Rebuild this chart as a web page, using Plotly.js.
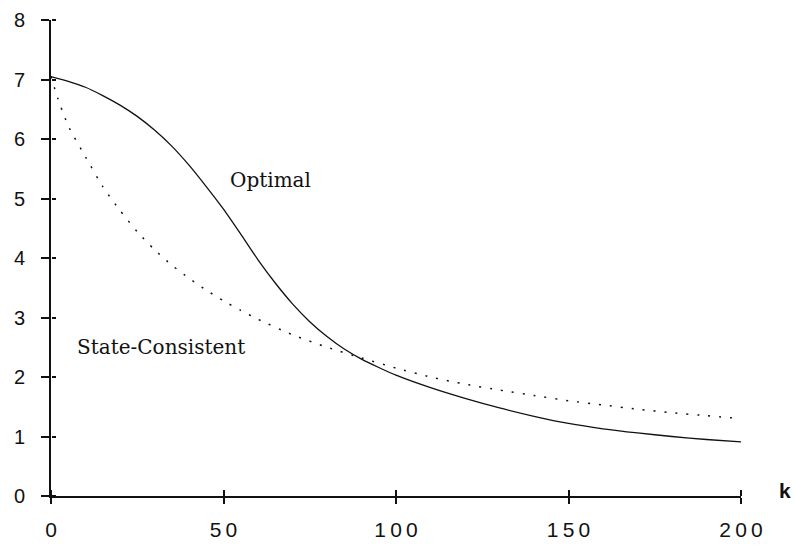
<!DOCTYPE html>
<html>
<head>
<meta charset="utf-8">
<script src="https://cdn.plot.ly/plotly-3.0.1.min.js"></script>
<style>html,body{margin:0;padding:0;background:#fff;}#chart{width:795px;height:552px;}</style>
</head>
<body>
<div id="chart"></div>
<script>
// Data
const kOptimal = [0,5,10,15,20,25,30,35,40,45,50,55,60,65,70,75,80,85,90,95,100,110,120,130,140,150,160,170,180,190,200];
const optimal  = [7.05,6.97,6.87,6.73,6.57,6.38,6.15,5.88,5.56,5.20,4.82,4.40,3.97,3.58,3.23,2.93,2.68,2.47,2.30,2.16,2.03,1.82,1.64,1.48,1.34,1.22,1.13,1.06,1.00,0.95,0.91];

const kState = [0,2,5,10,15,20,25,30,35,40,45,50,55,60,70,80,90,100,110,120,130,140,150,160,170,180,190,200];
const stateConsistent = [7.05,6.68,6.22,5.70,5.20,4.80,4.44,4.14,3.88,3.66,3.46,3.28,3.12,2.97,2.71,2.50,2.32,2.15,2.00,1.88,1.78,1.69,1.60,1.53,1.46,1.40,1.35,1.30];

const xTickVals = [0,50,100,150,200];
const xTickText = ['0','5\u20090','1\u20090\u20090','1\u20095\u20090','2\u20090\u20090'];
const yTickVals = [0,1,2,3,4,5,6,7,8];
const yTickText = ['0','1','2','3','4','5','6','7','8'];

const labelOptimal = 'Optimal';
const labelState = 'State-Consistent';
const xAxisLabel = 'k';

const traces = [
  {x: kOptimal, y: optimal, type: 'scatter', mode: 'lines', name: labelOptimal,
   line: {color: '#111', width: 1.3, shape: 'spline', smoothing: 0.6}, hoverinfo: 'skip'},
  {x: kState, y: stateConsistent, xaxis: 'x2', yaxis: 'y2', type: 'scatter', mode: 'lines', name: labelState,
   line: {color: '#111', width: 1.5, dash: '2px,9px', shape: 'spline', smoothing: 0.6}, hoverinfo: 'skip'}
];

const tickFont = {family: '"Liberation Sans", Arial, sans-serif', size: 20, color: '#111'};

const layout = {
  width: 795, height: 552,
  margin: {l: 51, r: 54, t: 20, b: 56},
  paper_bgcolor: '#fff', plot_bgcolor: '#fff',
  showlegend: false,
  xaxis: {
    range: [0, 200], tickvals: xTickVals, ticktext: xTickText,
    showgrid: false, zeroline: false, showline: true, linecolor: '#111', linewidth: 2,
    ticks: 'outside', ticklen: 6, tickwidth: 2, tickcolor: '#111',
    tickfont: Object.assign({}, tickFont, {size: 21}), ticklabelstandoff: 8
  },
  yaxis: {
    range: [0, 8], tickvals: yTickVals, ticktext: yTickText,
    showgrid: false, zeroline: false, showline: true, linecolor: '#111', linewidth: 2,
    ticks: 'outside', ticklen: 8, tickwidth: 2, tickcolor: '#111',
    tickfont: tickFont, ticklabelstandoff: 12
  },
  // companion axes that draw the upper / right half of the crossing ticks
  xaxis2: {
    overlaying: 'x', anchor: 'free', position: 0, side: 'top', range: [0, 200], tickvals: xTickVals,
    showticklabels: false, showgrid: false, zeroline: false, showline: false,
    ticks: 'outside', ticklen: 6, tickwidth: 2, tickcolor: '#111'
  },
  yaxis2: {
    overlaying: 'y', anchor: 'free', position: 0, side: 'right', range: [0, 8], tickvals: yTickVals,
    showticklabels: false, showgrid: false, zeroline: false, showline: false,
    ticks: 'outside', ticklen: 4, tickwidth: 2, tickcolor: '#111'
  },
  annotations: [
    {x: 63.5, y: 5.31, xref: 'x', yref: 'y', text: labelOptimal, showarrow: false,
     font: {family: '"DejaVu Serif", serif', size: 20, color: '#111'}},
    {x: 32, y: 2.5, xref: 'x', yref: 'y', text: labelState, showarrow: false,
     font: {family: '"DejaVu Serif", serif', size: 20, color: '#111'}},
    {x: 1.064, y: 0.0126, xref: 'paper', yref: 'paper', xanchor: 'center', yanchor: 'middle',
     text: '<b>' + xAxisLabel + '</b>', showarrow: false,
     font: {family: '"Liberation Sans", Arial, sans-serif', size: 21, color: '#111'}}
  ]
};

Plotly.newPlot('chart', traces, layout, {staticPlot: true, displayModeBar: false});
</script>
</body>
</html>
